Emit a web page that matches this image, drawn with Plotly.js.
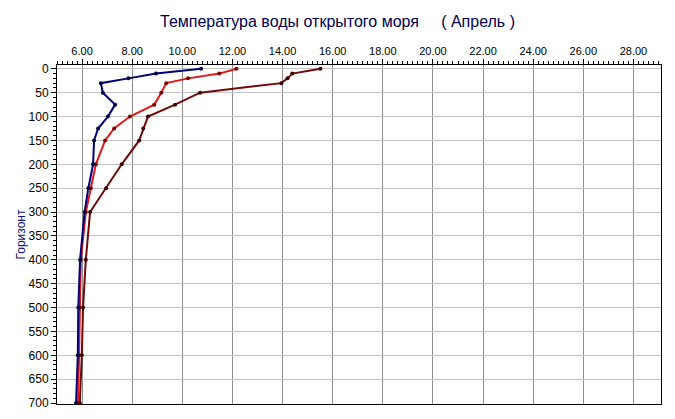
<!DOCTYPE html>
<html>
<head>
<meta charset="utf-8">
<script src="https://cdn.plot.ly/plotly-3.0.1.min.js"></script>
<style>html,body{margin:0;padding:0;background:#fff;}#chart{width:675px;height:419px;}</style>
</head>
<body>
<div id="chart"></div>
<script>
// Depth horizons (m)
const depths = [0, 10, 20, 30, 50, 75, 100, 125, 150, 200, 250, 300, 400, 500, 600, 700];
// Temperature series (°C)
const seriesBlue   = [10.75, 8.95, 7.85, 6.75, 6.83, 7.32, 7.03, 6.64, 6.48, 6.44, 6.25, 6.10, 5.92, 5.85, 5.83, 5.76];
const seriesRed    = [12.16, 11.48, 10.23, 9.36, 9.16, 8.88, 7.91, 7.28, 6.92, 6.55, 6.35, 6.15, 5.95, 5.90, 5.88, 5.84];
const seriesMaroon = [15.51, 14.39, 14.20, 13.95, 10.71, 9.71, 8.63, 8.44, 8.28, 7.58, 6.96, 6.32, 6.15, 6.04, 5.99, 5.91];
const titleText = "Температура воды открытого моря\u00a0\u00a0\u00a0\u00a0\u00a0( Апрель )";
const yTitle = "Горизонт";

const font = "Arial, 'Liberation Sans', sans-serif";
function tr(x, lineColor, markerColor) {
  return {
    x: x, y: depths, type: "scatter", mode: "lines+markers",
    line: {color: lineColor, width: 2},
    marker: {color: markerColor, size: 4},
    hoverinfo: "x+y"
  };
}
const data = [
  tr(seriesMaroon, "#6e0a0a", "#3a0000"),
  tr(seriesRed, "#e01818", "#7a0000"),
  tr(seriesBlue, "#00007a", "#000040")
];
const layout = {
  width: 675, height: 419,
  margin: {l: 57, r: 14, t: 65, b: 15},
  paper_bgcolor: "#fff", plot_bgcolor: "#fff",
  showlegend: false,
  title: {text: titleText, font: {family: font, size: 16, color: "#000050"}, x: 0.5, xanchor: "center", y: 0.95, yanchor: "middle"},
  xaxis: {
    side: "top", range: [5, 29.1], tick0: 6, dtick: 2, tickformat: ".2f",
    ticks: "outside", ticklen: 5, tickcolor: "#000", tickwidth: 1,
    minor: {dtick: 0.2, ticklen: 3, tickcolor: "#000", showgrid: false},
    showline: true, linecolor: "#000", linewidth: 1, mirror: true,
    showgrid: true, gridcolor: "#8c8c8c", gridwidth: 1,
    zeroline: false,
    tickfont: {family: font, size: 11, color: "#000"}
  },
  yaxis: {
    range: [702, -8], tick0: 0, dtick: 50,
    ticks: "outside", ticklen: 5, tickcolor: "#000", tickwidth: 1,
    minor: {dtick: 10, ticklen: 3, tickcolor: "#000", showgrid: false},
    showline: true, linecolor: "#000", linewidth: 1, mirror: true,
    showgrid: true, gridcolor: "#c4c4c4", gridwidth: 1,
    zeroline: false,
    tickfont: {family: font, size: 12, color: "#000"},
    title: {text: yTitle, font: {family: font, size: 12, color: "#10107a"}, standoff: 0}
  }
};
Plotly.newPlot("chart", data, layout, {displayModeBar: false, staticPlot: true});
</script>
</body>
</html>
